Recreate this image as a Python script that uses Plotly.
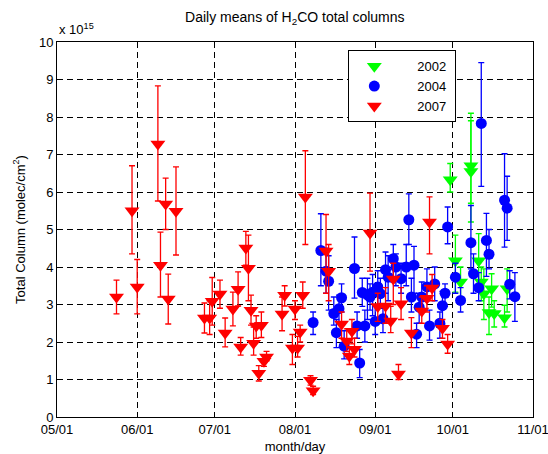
import plotly.graph_objects as go

YEAR = "2001-"

# 2002 (green)
g_dates = ["09-30","10-02","10-04","10-08","10-08","10-11","10-12","10-13","10-15","10-16","10-17","10-21","10-22"]
g_vals  = [6.33, 4.17, 3.60, 6.70, 6.55, 4.17, 3.60, 3.29, 2.79, 3.42, 2.76, 2.65, 3.42]
g_lo    = [6.00, 3.33, 3.15, 5.70, 5.20, 3.40, 3.10, 2.60, 2.20, 2.93, 2.40, 2.40, 2.80]
g_hi    = [6.76, 4.85, 4.00, 8.10, 7.90, 4.89, 4.00, 3.95, 3.20, 3.82, 3.10, 2.98, 3.95]

# 2004 (blue)
b_dates = ["08-08","08-11","08-13","08-14","08-16","08-17","08-18","08-19","08-20","08-24",
           "08-25","08-26","08-27","08-28","08-29","08-30","08-31","09-01","09-02","09-03",
           "09-04","09-05","09-06","09-08","09-09","09-11","09-13","09-14","09-15","09-16",
           "09-17","09-18","09-19","09-21","09-22","09-24","09-26","09-27","09-28","09-29",
           "10-02","10-04","10-08","10-09","10-11","10-12","10-14","10-15","10-21","10-22",
           "10-23","10-25"]
b_vals  = [2.52, 4.44, 3.89, 3.62, 2.76, 2.25, 2.89, 3.18, 1.89, 3.96,
           2.43, 1.44, 3.32, 2.43, 3.26, 3.20, 3.33, 2.55, 3.47, 3.29,
           2.62, 3.93, 3.73, 4.22, 4.00, 3.69, 4.00, 5.26, 3.20, 4.05,
           2.21, 2.93, 3.20, 3.47, 2.43, 3.55, 2.50, 2.97, 3.30, 5.07,
           3.73, 3.11, 4.65, 3.82, 3.45, 7.83, 4.71, 4.34, 5.78, 5.57,
           3.54, 3.21]
b_lo    = [2.20, 3.50, 3.30, 2.85, 2.45, 1.85, 2.50, 2.80, 1.55, 3.17,
           2.10, 1.05, 2.95, 2.00, 2.60, 2.85, 2.70, 2.20, 3.00, 2.90,
           2.25, 3.30, 3.10, 3.60, 3.50, 3.30, 3.50, 4.60, 2.80, 3.30,
           1.85, 2.50, 2.80, 3.10, 2.05, 3.10, 2.10, 2.45, 2.95, 4.62,
           3.30, 2.80, 3.95, 3.30, 3.10, 6.15, 3.75, 3.95, 4.53, 4.71,
           3.15, 2.55]
b_hi    = [2.80, 5.42, 4.50, 4.30, 3.20, 2.60, 3.25, 3.55, 2.30, 4.80,
           2.80, 1.80, 3.70, 2.85, 3.70, 3.55, 3.80, 2.95, 3.90, 3.70,
           2.95, 4.40, 4.30, 4.60, 4.35, 4.10, 4.60, 5.95, 3.70, 4.55,
           2.50, 3.30, 3.60, 3.95, 2.85, 4.00, 2.80, 3.35, 3.55, 5.60,
           4.10, 3.45, 5.64, 4.35, 3.85, 9.45, 5.43, 5.00, 7.02, 6.42,
           3.90, 3.85]

# 2007 (red)
r_dates = ["05-24","05-30","06-01","06-09","06-10","06-12","06-13","06-16","06-27","06-29",
           "06-30","07-03","07-05","07-08","07-10","07-11","07-13","07-14","07-15","07-16",
           "07-17","07-18","07-19","07-20","07-21","07-27","07-28","07-31","08-01","08-02",
           "08-03","08-04","08-05","08-07","08-08","08-13","08-14","08-19","08-21","08-22",
           "08-23","08-24","08-30","09-02","09-05","09-07","09-08","09-11","09-10","09-15",
           "09-19","09-21","09-23","09-22","09-27","09-29"]
r_vals  = [3.20, 5.50, 3.47, 7.28, 4.05, 5.68, 3.15, 5.49, 2.64, 2.64,
           3.09, 3.28, 2.24, 2.88, 3.41, 1.87, 4.51, 3.97, 2.85, 1.97,
           2.43, 1.17, 2.45, 1.49, 1.60, 2.75, 3.25, 1.84, 2.88, 1.84,
           2.27, 3.25, 5.87, 0.98, 0.70, 4.43, 3.89, 2.48, 2.03, 1.63,
           2.29, 1.81, 4.91, 2.95, 2.96, 2.56, 3.68, 3.02, 1.15, 2.24,
           2.83, 3.17, 3.44, 5.20, 2.37, 1.95]
r_lo    = [2.75, 4.35, 2.75, 5.76, 3.20, 5.00, 2.48, 4.32, 2.24, 2.20,
           2.45, 2.90, 1.87, 2.43, 2.96, 1.65, 4.05, 3.10, 2.45, 1.65,
           2.10, 0.96, 2.12, 1.35, 1.50, 2.30, 2.96, 1.40, 2.60, 1.60,
           2.00, 2.90, 4.60, 0.85, 0.60, 3.30, 3.10, 2.10, 1.75, 1.40,
           1.95, 1.60, 3.89, 2.55, 2.50, 2.25, 3.00, 2.60, 1.00, 1.85,
           2.50, 2.80, 3.10, 4.35, 2.10, 1.70]
r_hi    = [3.65, 6.70, 4.20, 8.83, 4.93, 6.37, 3.81, 6.67, 3.04, 3.10,
           3.72, 3.65, 2.64, 3.33, 3.87, 2.12, 4.95, 4.85, 3.25, 2.40,
           2.70, 1.37, 2.80, 1.65, 1.75, 3.20, 3.50, 2.20, 3.10, 2.15,
           2.45, 3.60, 7.10, 1.10, 0.82, 5.40, 4.60, 2.80, 2.35, 1.85,
           2.60, 2.10, 5.97, 3.30, 3.45, 2.95, 4.10, 3.45, 1.40, 2.65,
           3.20, 3.50, 3.80, 5.87, 2.60, 2.20]

x_ticks = ["05-01", "06-01", "07-01", "08-01", "09-01", "10-01", "11-01"]
x_labels = ["05/01", "06/01", "07/01", "08/01", "09/01", "10/01", "11/01"]

series = [
    ("2002", g_dates, g_vals, g_lo, g_hi, "#00FF00", "triangle-down", 13),
    ("2004", b_dates, b_vals, b_lo, b_hi, "#0000FF", "circle", 11),
    ("2007", r_dates, r_vals, r_lo, r_hi, "#FF0000", "triangle-down", 13),
]

fig = go.Figure()
for name, d, v, lo, hi, col, sym, sz in series:
    fig.add_trace(go.Scatter(
        x=[YEAR + s for s in d], y=v, mode="markers", name="\u00a0" * 5 + name + "\u00a0",
        marker=dict(symbol=sym, size=sz, color=col, line=dict(width=0)),
        error_y=dict(type="data", symmetric=False,
                     array=[h - val for h, val in zip(hi, v)],
                     arrayminus=[val - l for l, val in zip(lo, v)],
                     color=col, thickness=1.3, width=3),
    ))

font = "Liberation Sans, Arial, Helvetica, sans-serif"
fig.update_layout(
    width=548, height=454,
    margin=dict(l=57, r=15, t=42, b=37),
    paper_bgcolor="white", plot_bgcolor="white",
    font=dict(family=font, size=13, color="black"),
    title=dict(text="Daily means of H<sub>2</sub>CO total columns", x=0.538, xanchor="center",
               y=1 - 17 / 454, yanchor="middle", font=dict(size=14)),
    showlegend=True,
    legend=dict(x=0.612, y=0.978, xanchor="left", yanchor="top",
                bgcolor="white", bordercolor="black", borderwidth=1,
                font=dict(size=13), itemwidth=40),
    xaxis=dict(
        type="date", range=[YEAR + "05-01", YEAR + "11-01 00:00:01"],
        tickvals=[YEAR + t for t in x_ticks], ticktext=x_labels,
        ticks="inside", ticklen=5, tickcolor="black", mirror="allticks",
        showline=True, linecolor="black", linewidth=1,
        showgrid=True, gridcolor="black", gridwidth=1, griddash="6px,4px",
        zeroline=False, ticklabeloverflow="allow", automargin=False,
        title=dict(text="month/day", standoff=10, font=dict(size=13)),
    ),
    yaxis=dict(
        range=[0, 10], dtick=1,
        ticks="inside", ticklen=5, tickcolor="black", mirror="allticks",
        showline=True, linecolor="black", linewidth=1,
        showgrid=True, gridcolor="black", gridwidth=1, griddash="6px,4px",
        zeroline=False, automargin=False,
        title=dict(text="Total Column (molec/cm<sup>2</sup>)", standoff=10, font=dict(size=13)),
    ),
    annotations=[dict(text="x 10<sup>15</sup>", xref="paper", yref="paper", x=0, y=1,
                      xanchor="left", yanchor="bottom", yshift=3, showarrow=False,
                      font=dict(size=13))],
)

fig.write_html("out.html")
